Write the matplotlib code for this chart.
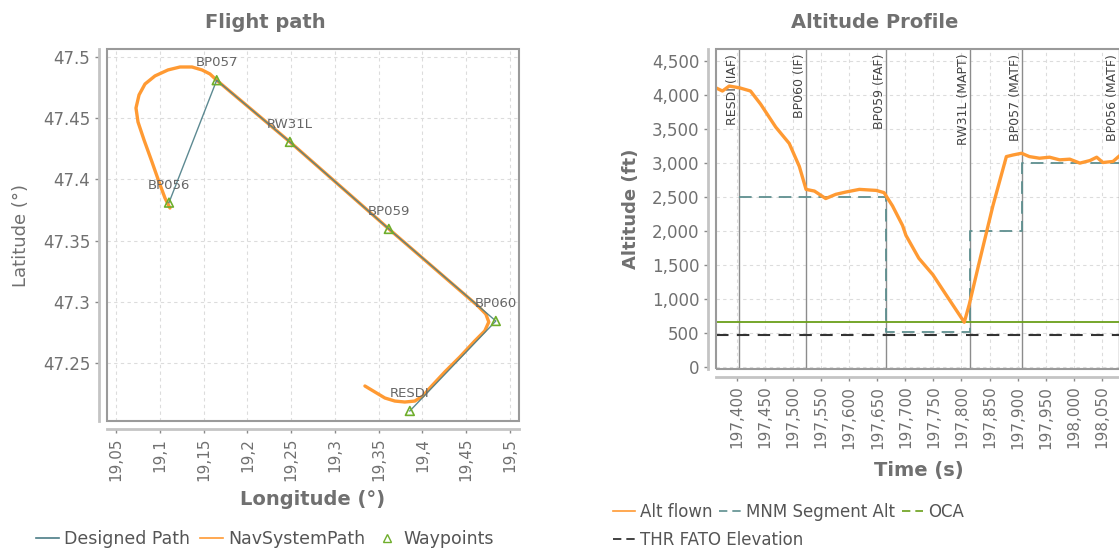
import matplotlib
matplotlib.use("Agg")
import matplotlib.pyplot as plt
from matplotlib.lines import Line2D
from matplotlib.patches import Rectangle
from matplotlib.ticker import FuncFormatter, MultipleLocator

# --- flight path (lon/lat) ---
wp_names = ["RESDI", "BP060", "BP059", "RW31L", "BP057", "BP056"]
wp_lon = [19.3856, 19.4838, 19.3616, 19.2486, 19.1650, 19.1105]
wp_lat = [47.2108, 47.2843, 47.3595, 47.4306, 47.4810, 47.3810]

nav_lon = [19.3343, 19.3457, 19.3571, 19.3685, 19.3799, 19.3913, 19.4005, 19.4085,
           19.4256, 19.4427, 19.4598, 19.4712, 19.4758, 19.4724, 19.4633, 19.3616,
           19.2486, 19.1650, 19.1573, 19.1482, 19.1368, 19.1231, 19.1094, 19.0945,
           19.0831, 19.0763, 19.0728, 19.0751, 19.0820, 19.0911, 19.0991, 19.1059,
           19.1116]
nav_lat = [47.2312, 47.2263, 47.2214, 47.2189, 47.2181, 47.2189, 47.2230, 47.2296,
           47.2427, 47.2549, 47.2680, 47.2762, 47.2835, 47.2900, 47.2966, 47.3595,
           47.4306, 47.4810, 47.4861, 47.4894, 47.4918, 47.4918, 47.4894, 47.4845,
           47.4779, 47.4690, 47.4583, 47.4469, 47.4322, 47.4142, 47.3979, 47.3848,
           47.3766]

# --- altitude profile ---
alt_time = [197362, 197374, 197386, 197404, 197424, 197442, 197469, 197493, 197511,
            197523, 197538, 197558, 197576, 197594, 197618, 197648, 197662, 197677,
            197695, 197701, 197724, 197749, 197772, 197805, 197814, 197832, 197844,
            197856, 197880, 197892, 197907, 197921, 197939, 197957, 197975, 197993,
            198011, 198029, 198041, 198052, 198070, 198080]
alt_ft = [4113, 4065, 4138, 4113, 4065, 3872, 3533, 3293, 2954,
          2616, 2591, 2481, 2543, 2577, 2616, 2601, 2568, 2374,
          2084, 1939, 1601, 1359, 1070, 659, 925, 1554, 1964,
          2374, 3099, 3123, 3148, 3099, 3075, 3090, 3051, 3061,
          3003, 3041, 3090, 3012, 3027, 3099]

mnm_time = [197404, 197665, 197816, 197907, 198120]
mnm_alt = [2500, 510, 2000, 3000, 3000]

fix_time = [197404, 197523, 197665, 197816, 197907, 198081]
fix_labels = ["RESDI (IAF)", "BP060 (IF)", "BP059 (FAF)", "RW31L (MAPT)",
              "BP057 (MATF)", "BP056 (MATF)"]

oca_ft = 659
thr_ft = 465

ORANGE = "#ff9a33"
TEAL = "#4b7d86"
GREEN = "#6fae2c"
GREY_TXT = "#707070"
GRID = dict(color="#dcdcdc", linestyle=(0, (3, 3)), linewidth=0.8)

W, H = 1119, 548
fig = plt.figure(figsize=(W / 100, H / 100), dpi=100)


def px_axes(left, top, right, bottom):
    return fig.add_axes([left / W, 1 - bottom / H, (right - left) / W, (bottom - top) / H])


def style_axes(ax):
    for side in ("top", "right"):
        ax.spines[side].set_visible(False)
    for side in ("left", "bottom"):
        ax.spines[side].set_position(("outward", 5.5))
        ax.spines[side].set_color("#c4c4c4")
        ax.spines[side].set_linewidth(2)
    ax.add_patch(Rectangle((0, 0), 1, 1, transform=ax.transAxes, fill=False,
                           edgecolor="#9a9a9a", linewidth=1.5, clip_on=False, zorder=5))
    ax.tick_params(colors="#8a8a8a", length=3, width=1, labelcolor=GREY_TXT)
    ax.tick_params(axis="y", labelsize=12)
    ax.tick_params(axis="x", labelsize=11, labelrotation=90)
    ax.grid(True, **GRID)
    ax.set_axisbelow(True)


# ---------------- Flight path ----------------
ax1 = px_axes(107, 49, 519, 421)
style_axes(ax1)
ax1.plot(nav_lon, nav_lat, color=ORANGE, linewidth=2.4, solid_capstyle="round",
         solid_joinstyle="round", zorder=2)
ax1.plot(wp_lon, wp_lat, color=TEAL, linewidth=1.0, alpha=0.9, zorder=3)
ax1.scatter(wp_lon, wp_lat, marker="^", s=40, facecolors="none", edgecolors=GREEN,
            linewidths=1.2, zorder=4)
for name, lon, lat in zip(wp_names, wp_lon, wp_lat):
    ax1.annotate(name, (lon, lat), xytext=(0, 8), textcoords="offset points",
                 ha="center", va="bottom", fontsize=9.5, color="#666666", zorder=4)

ax1.set_xlim(19.0397, 19.5103)
ax1.set_ylim(47.2026, 47.5065)
ax1.xaxis.set_major_locator(MultipleLocator(0.05))
ax1.yaxis.set_major_locator(MultipleLocator(0.05))
ax1.xaxis.set_major_formatter(FuncFormatter(
    lambda v, _: f"{v:.2f}".rstrip("0").rstrip(".").replace(".", ",")))
ax1.yaxis.set_major_formatter(FuncFormatter(
    lambda v, _: f"{v:.2f}".rstrip("0").rstrip(".")))
ax1.set_xlabel("Longitude (°)", fontsize=14, fontweight="bold", color=GREY_TXT)
ax1.set_ylabel("Latitude (°)", fontsize=13, color=GREY_TXT)
ax1.xaxis.set_label_coords(0.5, -0.185)
ax1.yaxis.set_label_coords(-0.187, 0.5)

fig.text(265 / W, 1 - 22 / H, "Flight path", ha="center", va="center",
         fontsize=14, fontweight="bold", color=GREY_TXT)

h1 = [Line2D([], [], color=TEAL, linewidth=1.2),
      Line2D([], [], color=ORANGE, linewidth=1.2),
      Line2D([], [], linestyle="none", marker="^", markersize=6,
             markerfacecolor="none", markeredgecolor=GREEN)]
fig.legend(h1, ["Designed Path", "NavSystemPath", "Waypoints"], ncol=3,
           loc="center", bbox_to_anchor=(265 / W, 1 - 539 / H), frameon=False,
           fontsize=12.5, labelcolor="#555555", handlelength=1.3, handletextpad=0.3,
           columnspacing=0.6, borderpad=0)

# ---------------- Altitude profile ----------------
# the plot runs past the right edge of the picture, as in the original
ax2 = px_axes(716, 49, 1127, 369)
style_axes(ax2)
for t, lab in zip(fix_time, fix_labels):
    ax2.axvline(t, color="#8c8c8c", linewidth=1.0, zorder=1)
    ax2.text(t, 0.985, lab, transform=ax2.get_xaxis_transform(), rotation=90,
             ha="right", va="top", fontsize=9, color="#444444", zorder=1)
ax2.axhline(oca_ft, color="#6a9f1a", linewidth=1.3, zorder=2)
ax2.axhline(thr_ft, color="#333333", linewidth=1.5, dashes=(6, 4), zorder=2)
ax2.plot(mnm_time, mnm_alt, drawstyle="steps-post", color="#5e8f8f", linewidth=1.3,
         dashes=(7, 4), zorder=2)
ax2.plot(alt_time, alt_ft, color=ORANGE, linewidth=2.4, zorder=3)

ax2.set_xlim(197362.5, 198095)
ax2.set_ylim(-30, 4684)
ax2.xaxis.set_major_locator(MultipleLocator(50))
ax2.yaxis.set_major_locator(MultipleLocator(500))
ax2.xaxis.set_major_formatter(FuncFormatter(lambda v, _: f"{v:,.0f}"))
ax2.yaxis.set_major_formatter(FuncFormatter(lambda v, _: f"{v:,.0f}"))
ax2.set_xlabel("Time (s)", fontsize=14, fontweight="bold", color=GREY_TXT)
ax2.set_ylabel("Altitude (ft)", fontsize=13, fontweight="bold", color=GREY_TXT)
ax2.xaxis.set_label_coords((919 - 716) / 411, -0.2875)
ax2.yaxis.set_label_coords((640 - 716) / 411, 0.5)

fig.text(875 / W, 1 - 22 / H, "Altitude Profile", ha="center", va="center",
         fontsize=14, fontweight="bold", color=GREY_TXT)

h2 = [Line2D([], [], color=ORANGE, linewidth=1.2),
      Line2D([], [], color="#5e8f8f", linewidth=1.2, dashes=(5, 3)),
      Line2D([], [], color="#6a9f1a", linewidth=1.2, dashes=(5, 3))]
fig.legend(h2, ["Alt flown", "MNM Segment Alt", "OCA"], ncol=3,
           loc="center left", bbox_to_anchor=(605 / W, 1 - 512 / H), frameon=False,
           fontsize=12, labelcolor="#555555", handlelength=1.3, handletextpad=0.3,
           columnspacing=0.4, borderpad=0)
fig.legend([Line2D([], [], color="#222222", linewidth=1.2, dashes=(5, 3))],
           ["THR FATO Elevation"], loc="center left",
           bbox_to_anchor=(605 / W, 1 - 540 / H), frameon=False, fontsize=12,
           labelcolor="#555555", handlelength=1.3, handletextpad=0.3, borderpad=0)

fig.savefig("out.png", dpi=100)
